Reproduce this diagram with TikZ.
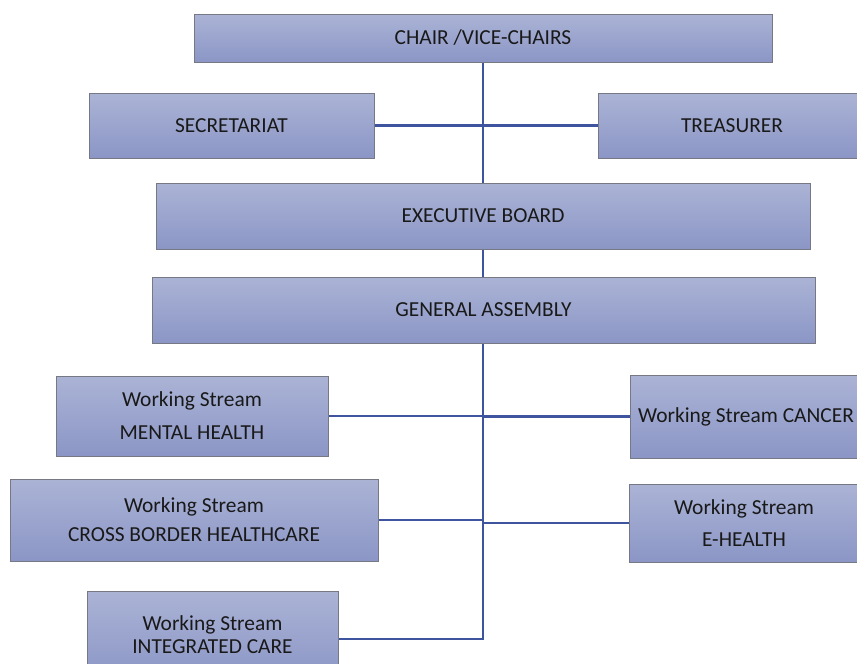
\documentclass[tikz,border=0pt]{standalone}
\usepackage{fontspec}
\setmainfont{Carlito}
\usepackage{tikz}
\usetikzlibrary{positioning,calc}

\definecolor{boxtop}{RGB}{171,179,213}
\definecolor{boxbot}{RGB}{139,150,198}
\definecolor{boxedge}{RGB}{118,120,132}
\definecolor{linkblue}{RGB}{63,84,158}

\begin{document}
\begin{tikzpicture}[
	x=1pt, y=-1pt,
	box/.style={rectangle, draw=boxedge, line width=1pt, top color=boxtop, bottom color=boxbot,
		inner sep=0pt, align=center, text=black!90, font=\fontsize{21.4}{30}\selectfont},
	wsbox/.style={box, font=\fontsize{21.4}{#1}\selectfont},
	link/.style={draw=linkblue, line width=2.5pt}]
	\useasboundingbox (0,0) rectangle (857,664);
	\clip (0,0) rectangle (857,664);
	% top of the tree
	\node[box, minimum width=578pt, minimum height=48pt] (chair) at (483,38) {CHAIR /VICE-CHAIRS};
	\node[box, minimum width=285pt, minimum height=65pt] (secr) at (231.5,125.5) {SECRETARIAT};
	\node[box, minimum width=268pt, minimum height=65pt] (treas) at (732,125.5) {TREASURER};
	\node[box, minimum width=654pt, minimum height=66pt] (exec) at (483,216) {EXECUTIVE BOARD};
	\node[box, minimum width=663pt, minimum height=66pt] (ga) at (483.5,310) {GENERAL ASSEMBLY};
	% working streams
	\node[wsbox=33, minimum width=272pt, minimum height=80pt] (mental) at (192,416) {Working Stream\\MENTAL HEALTH};
	\node[box, minimum width=232pt, minimum height=83pt] (cancer) at (746,416.5) {Working Stream CANCER};
	\node[wsbox=29, minimum width=368pt, minimum height=82pt] (cross) at (194,520) {Working Stream\\CROSS BORDER HEALTHCARE};
	\node[wsbox=32, minimum width=230pt, minimum height=78pt] (ehealth) at (744,523) {Working Stream\\E-HEALTH};
	\node[wsbox=23, minimum width=251pt, minimum height=88pt] (integ) at (212.5,635) {Working Stream\\INTEGRATED CARE};
	\coordinate (trunk) at (ga.south -| exec.south);
	% connectors
	\draw[link] (chair.south) -- (exec.north);
	\draw[link] (secr.east) -- (treas.west);
	\draw[link] (exec.south) -- (exec.south |- ga.north);
	\draw[link] (trunk) |- ([yshift=-4pt]integ.east);
	\draw[link] (mental.east) -- (mental.east -| trunk);
	\draw[link] (cancer.west) -- (cancer.west -| trunk);
	\draw[link] (cross.east) -- (cross.east -| trunk);
	\draw[link] (ehealth.west) -- (ehealth.west -| trunk);
\end{tikzpicture}
\end{document}
